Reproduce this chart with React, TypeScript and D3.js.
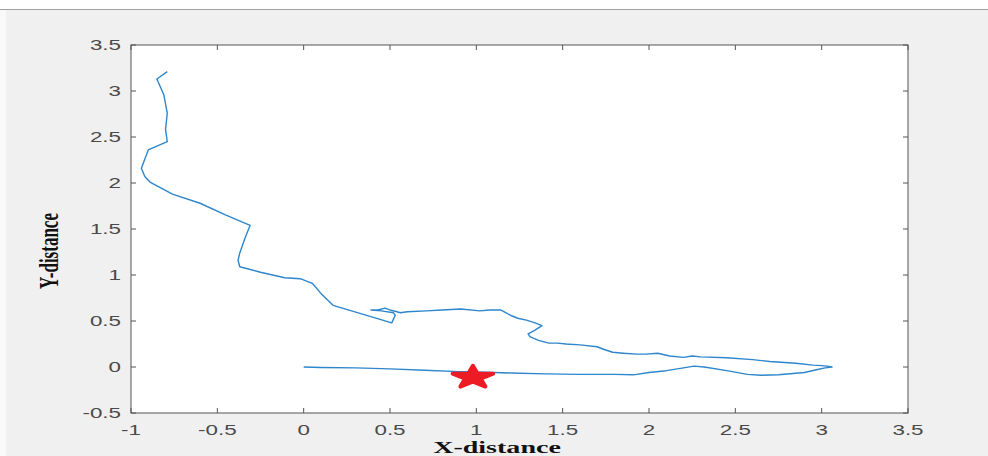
import React from "react";
import * as d3 from "d3";

const pathX = [
  0, 0.1, 0.3, 0.5, 0.7, 0.9, 1.0, 1.2, 1.4, 1.6, 1.8, 1.91, 2.0, 2.1, 2.2, 2.26, 2.32, 2.45, 2.57, 2.65, 2.75, 2.9, 2.97, 3.02, 3.06, 3.03, 3.0,
  2.95, 2.85, 2.7, 2.6, 2.45, 2.3, 2.25, 2.2, 2.12, 2.05, 1.98, 1.93, 1.85, 1.79, 1.74, 1.7, 1.6, 1.52, 1.47, 1.42, 1.36, 1.31, 1.3, 1.34, 1.38,
  1.34, 1.29, 1.24, 1.2, 1.17, 1.14, 1.08, 1.02, 0.91, 0.8, 0.71, 0.6, 0.56, 0.54, 0.5, 0.47, 0.43, 0.39, 0.45, 0.52, 0.53, 0.52, 0.51,
  0.35, 0.17, 0.1, 0.05, -0.02, -0.11, -0.25, -0.37, -0.38, -0.37, -0.34, -0.31, -0.45, -0.6, -0.76, -0.89, -0.92, -0.94, -0.9, -0.79,
  -0.8, -0.79, -0.81, -0.85, -0.79,
];
const pathY = [
  0, -0.005, -0.01, -0.02, -0.035, -0.05, -0.055, -0.065, -0.075, -0.08, -0.08, -0.085, -0.06, -0.04, -0.01, 0.01, 0.0, -0.04, -0.08, -0.09, -0.085, -0.06, -0.03, -0.01, 0.0, 0.01, 0.015,
  0.02, 0.04, 0.06, 0.08, 0.1, 0.11, 0.12, 0.105, 0.12, 0.15, 0.14, 0.14, 0.15, 0.16, 0.19, 0.22, 0.24, 0.25, 0.26, 0.26, 0.29, 0.33, 0.36, 0.4, 0.45,
  0.48, 0.51, 0.53, 0.56, 0.59, 0.62, 0.62, 0.61, 0.63, 0.62, 0.61, 0.6, 0.59, 0.6, 0.62, 0.64, 0.62, 0.62, 0.61, 0.59, 0.56, 0.52, 0.48,
  0.57, 0.67, 0.8, 0.91, 0.96, 0.97, 1.03, 1.09, 1.16, 1.24, 1.4, 1.54, 1.65, 1.78, 1.88, 2.01, 2.07, 2.16, 2.36, 2.45,
  2.58, 2.76, 2.96, 3.13, 3.21,
];
const starX = [0.98];
const starY = [-0.09];
const xTicks = [-1, -0.5, 0, 0.5, 1, 1.5, 2, 2.5, 3, 3.5];
const yTicks = [-0.5, 0, 0.5, 1, 1.5, 2, 2.5, 3, 3.5];
const xLabel = "X-distance";
const yLabel = "Y-distance";

export default function App() {
  const W = 988, H = 456;
  const L = 131, R = 908, T = 45, B = 413;
  const x = d3.scaleLinear().domain([-1, 3.5]).range([L, R]);
  const y = d3.scaleLinear().domain([-0.5, 3.5]).range([B, T]);
  const pts = pathX.map((v, i) => [v, pathY[i]] as [number, number]);
  const line = d3.line<[number, number]>().x(d => x(d[0])).y(d => y(d[1]))(pts) || "";
  const star = d3.symbol().type(d3.symbolStar).size(11.5 * 11.5 / 0.8908130915292852)() || "";
  const fmt = (v: number) => String(v);
  const tickLen = 5;
  return (
    <svg width={W} height={H} style={{ position: "absolute", left: 0, top: 0, display: "block" }}>
      <rect x={0} y={0} width={W} height={H} fill="#ffffff" />
      <rect x={0} y={10} width={W} height={H - 10} fill="#f0f0f0" />
      <rect x={0} y={10} width={6} height={H - 10} fill="#f9f9f9" />
      <line x1={0} x2={W} y1={9.5} y2={9.5} stroke="#a0a0a0" strokeWidth={1} />
      <rect x={L} y={T} width={R - L} height={B - T} fill="#ffffff" />
      <defs>
        <clipPath id="clipPlot"><rect x={L} y={T} width={R - L} height={B - T} /></clipPath>
      </defs>
      <g clipPath="url(#clipPlot)">
        <path d={line} fill="none" stroke="#2e86cc" strokeWidth={1.4} strokeLinejoin="round" />
      </g>
      {starX.map((sx, i) => (
        <path key={i} d={star}
          transform={`translate(${x(sx)},${y(starY[i]) + 2}) scale(1.85,1)`}
          fill="#ed1c24" stroke="#ed1c24" strokeWidth={4} strokeLinejoin="round"
          style={{ vectorEffect: "non-scaling-stroke" } as any} />
      ))}
      {xTicks.map(t => (
        <g key={"xt" + t}>
          <line x1={x(t)} x2={x(t)} y1={B} y2={B - tickLen} stroke="#555" />
          <line x1={x(t)} x2={x(t)} y1={T} y2={T + tickLen} stroke="#555" />
          <text transform={`translate(${x(t)},435) scale(1.6,1)`} textAnchor="middle"
            fontFamily="Liberation Sans, Arial, sans-serif" fontSize={14} fill="#4a4a4a">{fmt(t)}</text>
        </g>
      ))}
      {yTicks.map(t => (
        <g key={"yt" + t}>
          <line x1={L} x2={L + tickLen} y1={y(t)} y2={y(t)} stroke="#555" />
          <line x1={R} x2={R - tickLen} y1={y(t)} y2={y(t)} stroke="#555" />
          <text transform={`translate(121,${y(t) + 5}) scale(1.6,1)`} textAnchor="end"
            fontFamily="Liberation Sans, Arial, sans-serif" fontSize={14} fill="#4a4a4a">{fmt(t)}</text>
        </g>
      ))}
      <rect x={L} y={T} width={R - L} height={B - T} fill="none" stroke="#555" strokeWidth={1} />
      <text transform={`translate(497,453) scale(1.65,1)`} textAnchor="middle"
        fontFamily="Liberation Serif, Times New Roman, serif" fontWeight="bold" fontSize={17} fill="#111">{xLabel}</text>
      <text transform={`translate(58,251) scale(1.6,1) rotate(-90)`} textAnchor="middle"
        fontFamily="Liberation Serif, Times New Roman, serif" fontWeight="bold" fontSize={17} fill="#111">{yLabel}</text>
    </svg>
  );
}
